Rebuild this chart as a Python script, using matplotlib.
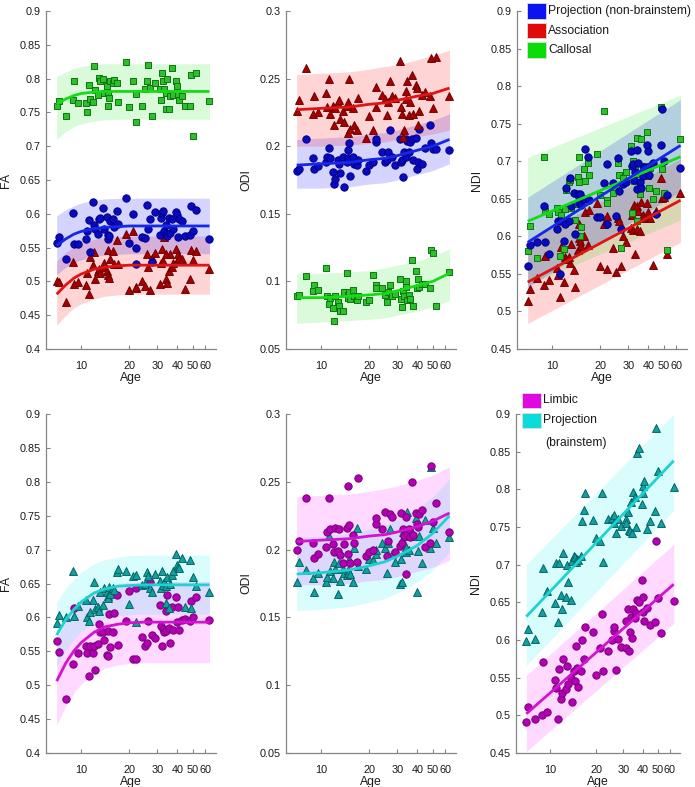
import matplotlib
matplotlib.use('Agg')
import matplotlib.pyplot as plt
from matplotlib.patches import Rectangle
from matplotlib.ticker import FixedLocator, NullLocator, FuncFormatter

plt.rcParams['font.family'] = ['Liberation Sans', 'DejaVu Sans']

# ---------------- data ----------------
age = [7.0, 7.2, 8.0, 8.9, 9.0, 9.5, 10.7, 10.9, 11.2, 11.4, 11.8, 12.0, 12.1, 12.7, 12.9, 13.1,
       13.6, 13.8, 14.4, 14.6, 14.8, 14.9, 15.1, 15.8, 16.1, 16.7, 16.9, 19.0, 20.0, 21.0, 21.9,
       22.1, 23.9, 25.1, 25.9, 26.1, 27.0, 27.6, 29.0, 31.0, 31.4, 32.3, 32.5, 33.0, 33.8, 34.2,
       34.7, 35.5, 36.0, 37.0, 37.8, 39.5, 40.0, 40.5, 41.0, 43.0, 44.6, 48.3, 48.7, 50.0, 52.5, 63.7]

fa_call = [0.760, 0.767, 0.745, 0.768, 0.797, 0.764, 0.764, 0.750, 0.790, 0.770, 0.766, 0.818, 0.783,
           0.776, 0.801, 0.796, 0.800, 0.779, 0.789, 0.759, 0.779, 0.772, 0.796, 0.793, 0.798, 0.793,
           0.766, 0.825, 0.758, 0.796, 0.777, 0.736, 0.760, 0.784, 0.797, 0.820, 0.786, 0.744, 0.793,
           0.784, 0.769, 0.809, 0.796, 0.784, 0.778, 0.755, 0.799, 0.755, 0.774, 0.815, 0.776, 0.796,
           0.789, 0.777, 0.769, 0.774, 0.760, 0.759, 0.805, 0.715, 0.808, 0.767]
fa_proj = [0.557, 0.566, 0.533, 0.601, 0.556, 0.556, 0.562, 0.575, 0.591, 0.544, 0.617, 0.583, 0.578,
           0.570, 0.592, 0.594, 0.608, 0.578, 0.596, 0.569, 0.563, 0.567, 0.590, 0.592, 0.580, 0.604,
           0.585, 0.623, 0.557, 0.600, 0.525, 0.549, 0.565, 0.564, 0.613, 0.578, 0.592, 0.529, 0.603,
           0.568, 0.594, 0.601, 0.604, 0.575, 0.583, 0.570, 0.567, 0.594, 0.571, 0.592, 0.578, 0.603,
           0.598, 0.566, 0.592, 0.589, 0.567, 0.568, 0.611, 0.575, 0.605, 0.563]
fa_assoc = [0.500, 0.499, 0.470, 0.528, 0.496, 0.499, 0.494, 0.512, 0.482, 0.536, 0.524, 0.543, 0.503,
            0.515, 0.519, 0.513, 0.522, 0.527, 0.516, 0.510, 0.546, 0.505, 0.533, 0.545, 0.525, 0.561,
            0.525, 0.570, 0.488, 0.574, 0.490, 0.492, 0.501, 0.493, 0.541, 0.522, 0.487, 0.535, 0.542,
            0.496, 0.527, 0.548, 0.530, 0.565, 0.503, 0.540, 0.498, 0.515, 0.540, 0.522, 0.527, 0.548,
            0.530, 0.541, 0.535, 0.533, 0.489, 0.504, 0.547, 0.532, 0.545, 0.518]

odi_assoc = [0.226, 0.234, 0.258, 0.224, 0.237, 0.225, 0.239, 0.229, 0.250, 0.224, 0.230, 0.216, 0.228,
             0.232, 0.234, 0.220, 0.226, 0.218, 0.230, 0.233, 0.210, 0.250, 0.213, 0.228, 0.216, 0.212,
             0.236, 0.206, 0.222, 0.212, 0.229, 0.244, 0.238, 0.235, 0.223, 0.233, 0.248, 0.237, 0.236,
             0.263, 0.229, 0.224, 0.207, 0.212, 0.235, 0.241, 0.248, 0.223, 0.233, 0.253, 0.224, 0.245,
             0.243, 0.216, 0.226, 0.238, 0.240, 0.237, 0.265, 0.228, 0.266, 0.237]
odi_proj = [0.182, 0.183, 0.205, 0.191, 0.183, 0.185, 0.188, 0.192, 0.199, 0.191, 0.181, 0.172, 0.176,
            0.190, 0.187, 0.180, 0.192, 0.170, 0.188, 0.197, 0.191, 0.202, 0.178, 0.192, 0.187, 0.186,
            0.190, 0.182, 0.186, 0.188, 0.203, 0.205, 0.196, 0.188, 0.190, 0.196, 0.212, 0.192, 0.186,
            0.205, 0.188, 0.190, 0.177, 0.196, 0.205, 0.192, 0.204, 0.196, 0.203, 0.205, 0.190, 0.206,
            0.183, 0.188, 0.213, 0.187, 0.199, 0.216, 0.202, 0.198, 0.198, 0.197]
odi_call = [0.089, 0.090, 0.104, 0.093, 0.097, 0.094, 0.110, 0.089, 0.083, 0.088, 0.080, 0.071, 0.089,
            0.085, 0.082, 0.078, 0.078, 0.092, 0.106, 0.090, 0.088, 0.092, 0.087, 0.094, 0.089, 0.086,
            0.089, 0.085, 0.086, 0.105, 0.097, 0.095, 0.095, 0.090, 0.085, 0.092, 0.097, 0.089, 0.091,
            0.102, 0.087, 0.081, 0.093, 0.089, 0.100, 0.096, 0.086, 0.090, 0.087, 0.116, 0.082, 0.108,
            0.095, 0.102, 0.096, 0.098, 0.098, 0.095, 0.123, 0.121, 0.082, 0.107]

ndi_proj = [0.561, 0.589, 0.592, 0.640, 0.592, 0.577, 0.610, 0.620, 0.550, 0.620, 0.594, 0.617, 0.664,
            0.621, 0.678, 0.640, 0.658, 0.603, 0.656, 0.645, 0.652, 0.656, 0.642, 0.650, 0.716, 0.706,
            0.648, 0.626, 0.626, 0.671, 0.696, 0.617, 0.671, 0.627, 0.704, 0.660, 0.610, 0.670, 0.672,
            0.714, 0.693, 0.696, 0.675, 0.686, 0.663, 0.715, 0.698, 0.673, 0.664, 0.680, 0.692, 0.722,
            0.713, 0.682, 0.693, 0.697, 0.630, 0.722, 0.770, 0.700, 0.655, 0.691]
ndi_assoc = [0.514, 0.530, 0.544, 0.535, 0.574, 0.542, 0.558, 0.549, 0.519, 0.586, 0.539, 0.573, 0.570,
             0.573, 0.565, 0.590, 0.555, 0.533, 0.582, 0.598, 0.617, 0.594, 0.587, 0.601, 0.633, 0.589,
             0.635, 0.644, 0.560, 0.617, 0.556, 0.627, 0.585, 0.553, 0.624, 0.620, 0.561, 0.600, 0.592,
             0.611, 0.628, 0.608, 0.642, 0.577, 0.610, 0.640, 0.634, 0.607, 0.646, 0.628, 0.625, 0.645,
             0.632, 0.625, 0.624, 0.562, 0.634, 0.678, 0.651, 0.652, 0.576, 0.658]
ndi_call = [0.580, 0.614, 0.571, 0.706, 0.634, 0.630, 0.638, 0.632, 0.574, 0.628, 0.583, 0.637, 0.662,
            0.673, 0.675, 0.638, 0.643, 0.622, 0.679, 0.705, 0.673, 0.601, 0.613, 0.690, 0.674, 0.697,
            0.682, 0.710, 0.655, 0.767, 0.649, 0.645, 0.658, 0.666, 0.697, 0.681, 0.585, 0.677, 0.686,
            0.720, 0.631, 0.700, 0.674, 0.690, 0.621, 0.731, 0.683, 0.656, 0.729, 0.691, 0.694, 0.739,
            0.680, 0.665, 0.691, 0.650, 0.660, 0.772, 0.690, 0.658, 0.582, 0.730]

fa_limb = [0.565, 0.549, 0.480, 0.531, 0.614, 0.547, 0.558, 0.547, 0.514, 0.558, 0.547, 0.558, 0.522,
           0.561, 0.591, 0.578, 0.579, 0.567, 0.545, 0.580, 0.543, 0.605, 0.556, 0.578, 0.606, 0.633,
           0.560, 0.594, 0.639, 0.538, 0.643, 0.538, 0.571, 0.558, 0.562, 0.595, 0.652, 0.574, 0.569,
           0.618, 0.587, 0.558, 0.583, 0.578, 0.610, 0.580, 0.633, 0.585, 0.562, 0.615, 0.582, 0.630,
           0.593, 0.615, 0.581, 0.596, 0.598, 0.595, 0.624, 0.601, 0.630, 0.596]
fa_bs = [0.592, 0.603, 0.600, 0.669, 0.602, 0.617, 0.625, 0.601, 0.594, 0.608, 0.625, 0.652, 0.612,
         0.615, 0.610, 0.638, 0.619, 0.644, 0.638, 0.631, 0.628, 0.645, 0.635, 0.643, 0.640, 0.667,
         0.671, 0.669, 0.620, 0.661, 0.663, 0.593, 0.648, 0.650, 0.667, 0.661, 0.643, 0.637, 0.664,
         0.653, 0.643, 0.669, 0.648, 0.652, 0.621, 0.647, 0.660, 0.614, 0.650, 0.663, 0.668, 0.693,
         0.678, 0.674, 0.673, 0.687, 0.616, 0.684, 0.614, 0.659, 0.647, 0.637]

odi_limb = [0.200, 0.206, 0.238, 0.205, 0.194, 0.197, 0.202, 0.213, 0.238, 0.215, 0.204, 0.198, 0.216,
            0.199, 0.215, 0.196, 0.190, 0.204, 0.216, 0.197, 0.247, 0.218, 0.190, 0.211, 0.205, 0.191,
            0.253, 0.195, 0.198, 0.200, 0.219, 0.223, 0.215, 0.228, 0.195, 0.206, 0.226, 0.224, 0.198,
            0.203, 0.227, 0.205, 0.215, 0.210, 0.182, 0.224, 0.212, 0.215, 0.209, 0.250, 0.211, 0.227,
            0.219, 0.217, 0.226, 0.229, 0.202, 0.205, 0.262, 0.220, 0.234, 0.213]
odi_bs = [0.176, 0.191, 0.185, 0.179, 0.169, 0.183, 0.176, 0.180, 0.210, 0.184, 0.179, 0.191, 0.186,
          0.167, 0.190, 0.177, 0.186, 0.183, 0.181, 0.185, 0.183, 0.193, 0.182, 0.176, 0.201, 0.216,
          0.188, 0.186, 0.193, 0.192, 0.197, 0.200, 0.205, 0.201, 0.183, 0.205, 0.215, 0.197, 0.191,
          0.175, 0.193, 0.176, 0.213, 0.210, 0.198, 0.202, 0.228, 0.200, 0.210, 0.213, 0.210, 0.223,
          0.169, 0.199, 0.210, 0.190, 0.222, 0.201, 0.261, 0.216, 0.205, 0.209]

ndi_bs = [0.599, 0.614, 0.601, 0.637, 0.696, 0.665, 0.649, 0.702, 0.624, 0.702, 0.660, 0.641, 0.716,
          0.657, 0.700, 0.677, 0.653, 0.705, 0.712, 0.710, 0.704, 0.707, 0.706, 0.712, 0.758, 0.772,
          0.795, 0.759, 0.736, 0.732, 0.795, 0.703, 0.761, 0.762, 0.766, 0.755, 0.742, 0.760, 0.751,
          0.760, 0.755, 0.770, 0.746, 0.745, 0.783, 0.742, 0.797, 0.790, 0.750, 0.848, 0.855, 0.781,
          0.795, 0.805, 0.811, 0.747, 0.758, 0.771, 0.882, 0.825, 0.755, 0.803]
ndi_limb = [0.491, 0.511, 0.495, 0.500, 0.571, 0.504, 0.547, 0.536, 0.495, 0.561, 0.522, 0.529, 0.575,
            0.535, 0.565, 0.541, 0.550, 0.518, 0.559, 0.545, 0.592, 0.563, 0.537, 0.559, 0.600, 0.575,
            0.617, 0.610, 0.554, 0.589, 0.635, 0.559, 0.586, 0.600, 0.612, 0.617, 0.560, 0.601, 0.591,
            0.625, 0.590, 0.641, 0.585, 0.610, 0.630, 0.602, 0.641, 0.629, 0.636, 0.653, 0.650, 0.680,
            0.657, 0.637, 0.625, 0.642, 0.620, 0.624, 0.731, 0.656, 0.609, 0.652]

# fitted curves and confidence bands
fit_age_fa = [7, 8, 9, 10, 12, 14, 17, 20, 25, 30, 40, 50, 63.7]
fa_call_fit = [0.762, 0.770, 0.775, 0.778, 0.780, 0.781, 0.781, 0.781, 0.781, 0.781, 0.781, 0.781, 0.781]
fa_call_hi = [0.803, 0.810, 0.815, 0.818, 0.821, 0.822, 0.822, 0.822, 0.822, 0.822, 0.822, 0.822, 0.822]
fa_call_lo = [0.710, 0.722, 0.729, 0.733, 0.737, 0.739, 0.740, 0.740, 0.740, 0.740, 0.740, 0.740, 0.740]
fa_proj_fit = [0.553, 0.563, 0.570, 0.574, 0.578, 0.580, 0.581, 0.582, 0.582, 0.582, 0.582, 0.582, 0.582]
fa_proj_hi = [0.597, 0.606, 0.612, 0.616, 0.620, 0.622, 0.623, 0.623, 0.623, 0.623, 0.623, 0.623, 0.623]
fa_proj_lo = [0.510, 0.521, 0.528, 0.532, 0.537, 0.539, 0.540, 0.541, 0.541, 0.541, 0.541, 0.541, 0.541]
fa_assoc_fit = [0.481, 0.495, 0.505, 0.511, 0.518, 0.521, 0.523, 0.524, 0.524, 0.524, 0.524, 0.524, 0.524]
fa_assoc_hi = [0.530, 0.543, 0.551, 0.556, 0.562, 0.565, 0.566, 0.567, 0.567, 0.567, 0.567, 0.567, 0.567]
fa_assoc_lo = [0.435, 0.450, 0.461, 0.467, 0.474, 0.478, 0.480, 0.481, 0.481, 0.481, 0.481, 0.481, 0.481]
fa_bs_fit = [0.574, 0.597, 0.612, 0.623, 0.636, 0.642, 0.646, 0.647, 0.648, 0.648, 0.648, 0.648, 0.648]
fa_bs_hi = [0.622, 0.643, 0.657, 0.667, 0.679, 0.685, 0.689, 0.691, 0.692, 0.692, 0.692, 0.692, 0.692]
fa_bs_lo = [0.527, 0.552, 0.568, 0.579, 0.592, 0.598, 0.602, 0.604, 0.605, 0.605, 0.605, 0.605, 0.605]
fa_limb_fit = [0.506, 0.533, 0.551, 0.563, 0.578, 0.586, 0.590, 0.592, 0.593, 0.593, 0.593, 0.593, 0.593]
fa_limb_hi = [0.568, 0.595, 0.613, 0.624, 0.638, 0.645, 0.650, 0.652, 0.653, 0.653, 0.653, 0.653, 0.653]
fa_limb_lo = [0.441, 0.470, 0.489, 0.502, 0.517, 0.525, 0.530, 0.532, 0.533, 0.533, 0.533, 0.533, 0.533]

fit_age_odi = [7, 10, 15, 20, 25, 30, 40, 50, 63.7]
odi_assoc_fit = [0.227, 0.228, 0.229, 0.231, 0.232, 0.234, 0.237, 0.239, 0.243]
odi_assoc_hi = [0.253, 0.254, 0.255, 0.257, 0.259, 0.260, 0.264, 0.267, 0.271]
odi_assoc_lo = [0.200, 0.200, 0.201, 0.202, 0.203, 0.205, 0.207, 0.209, 0.212]
odi_proj_fit = [0.186, 0.187, 0.188, 0.190, 0.191, 0.193, 0.197, 0.200, 0.205]
odi_proj_hi = [0.205, 0.206, 0.207, 0.209, 0.210, 0.212, 0.216, 0.219, 0.224]
odi_proj_lo = [0.169, 0.169, 0.170, 0.172, 0.173, 0.175, 0.179, 0.182, 0.187]
odi_call_fit = [0.088, 0.088, 0.089, 0.090, 0.091, 0.093, 0.097, 0.100, 0.106]
odi_call_hi = [0.106, 0.106, 0.107, 0.108, 0.110, 0.112, 0.115, 0.119, 0.124]
odi_call_lo = [0.069, 0.070, 0.071, 0.072, 0.073, 0.075, 0.078, 0.081, 0.086]
odi_limb_fit = [0.206, 0.207, 0.208, 0.210, 0.211, 0.213, 0.217, 0.221, 0.227]
odi_limb_hi = [0.239, 0.240, 0.241, 0.243, 0.245, 0.247, 0.251, 0.255, 0.261]
odi_limb_lo = [0.174, 0.174, 0.175, 0.177, 0.178, 0.180, 0.184, 0.187, 0.192]
odi_bs_fit = [0.182, 0.183, 0.185, 0.188, 0.191, 0.195, 0.203, 0.212, 0.225]
odi_bs_hi = [0.209, 0.210, 0.212, 0.215, 0.218, 0.222, 0.230, 0.239, 0.252]
odi_bs_lo = [0.155, 0.156, 0.158, 0.161, 0.164, 0.168, 0.176, 0.185, 0.198]

fit_age_ndi = [7, 63.7]
ndi_proj_fit = [0.592, 0.721]
ndi_proj_hi = [0.652, 0.782]
ndi_proj_lo = [0.532, 0.660]
ndi_assoc_fit = [0.539, 0.648]
ndi_assoc_hi = [0.594, 0.703]
ndi_assoc_lo = [0.484, 0.592]
ndi_call_fit = [0.620, 0.706]
ndi_call_hi = [0.705, 0.788]
ndi_call_lo = [0.535, 0.622]
ndi_limb_fit = [0.502, 0.674]
ndi_limb_hi = [0.553, 0.727]
ndi_limb_lo = [0.452, 0.622]
ndi_bs_fit = [0.631, 0.838]
ndi_bs_hi = [0.700, 0.900]
ndi_bs_lo = [0.566, 0.772]

x_ticks = [10, 20, 30, 40, 50, 60]

# ---------------- styles ----------------
STY = {
    'proj':  dict(band=(0.0, 0.0, 1.0), line='#1428E6', face='#0A0ABE', edge='#000088', marker='o', s=28),
    'assoc': dict(band=(1.0, 0.0, 0.0), line='#E01414', face='#A80000', edge='#6E0000', marker='^', s=32),
    'call':  dict(band=(0.0, 0.9, 0.0), line='#14DC14', face='#2EBE2E', edge='#0A780A', marker='s', s=22),
    'limb':  dict(band=(1.0, 0.0, 1.0), line='#D214D2', face='#B400B4', edge='#780078', marker='o', s=28),
    'bs':    dict(band=(0.0, 0.95, 0.95), line='#1ED2D2', face='#14A0A0', edge='#006464', marker='^', s=32),
}

W, H = 695, 787
fig = plt.figure(figsize=(W / 100, H / 100), dpi=100)


def make_ax(x0, x1, y0, y1):
    return fig.add_axes([x0 / W, 1 - y1 / H, (x1 - x0) / W, (y1 - y0) / H])


def style(ax, ylim, step, ylabel):
    ax.set_xscale('log')
    ax.set_xlim(6, 70)
    ax.set_ylim(*ylim)
    ax.xaxis.set_major_locator(FixedLocator(x_ticks))
    ax.xaxis.set_minor_locator(NullLocator())
    ax.xaxis.set_major_formatter(FuncFormatter(lambda v, p: f'{v:g}'))
    n = int(round((ylim[1] - ylim[0]) / step))
    ax.set_yticks([ylim[0] + i * step for i in range(n + 1)])
    ax.yaxis.set_major_formatter(FuncFormatter(lambda v, p: f'{round(v, 3):g}'))
    for s in ['top', 'right']:
        ax.spines[s].set_visible(False)
    for s in ['left', 'bottom']:
        ax.spines[s].set_color('#858585')
        ax.spines[s].set_linewidth(0.9)
    ax.tick_params(direction='in', length=3, width=0.8, color='#858585',
                   labelsize=7.8, labelcolor='#1a1a1a')
    ax.tick_params(axis='x', pad=8.5)
    ax.tick_params(axis='y', pad=4)
    ax.set_xlabel('Age', fontsize=8.8, color='#1a1a1a')
    ax.set_ylabel(ylabel, fontsize=8.8, color='#1a1a1a')
    bb = ax.get_position()
    ax.yaxis.set_label_coords(-34 / (bb.width * W), 0.5)
    ax.xaxis.set_label_coords(0.5, -23 / (bb.height * H))


def group(ax, key, y, fx, fy, lo, hi, alpha=0.17):
    st = STY[key]
    ax.fill_between(fx, lo, hi, color=st['band'], alpha=alpha, linewidth=0, zorder=1)
    ax.scatter(age, y, s=st['s'], marker=st['marker'], facecolor=st['face'],
               edgecolor=st['edge'], linewidth=0.7, zorder=3)
    ax.plot(fx, fy, color=st['line'], lw=2.0, zorder=4, solid_capstyle='butt')


cols = [(46, 216), (286, 456), (517, 687)]
row1 = (11, 349)
row2 = (414, 753)

# top row
ax = make_ax(*cols[0], *row1)
group(ax, 'call', fa_call, fit_age_fa, fa_call_fit, fa_call_lo, fa_call_hi, 0.15)
group(ax, 'assoc', fa_assoc, fit_age_fa, fa_assoc_fit, fa_assoc_lo, fa_assoc_hi)
group(ax, 'proj', fa_proj, fit_age_fa, fa_proj_fit, fa_proj_lo, fa_proj_hi)
style(ax, (0.4, 0.9), 0.05, 'FA')

ax = make_ax(*cols[1], *row1)
group(ax, 'call', odi_call, fit_age_odi, odi_call_fit, odi_call_lo, odi_call_hi, 0.15)
group(ax, 'proj', odi_proj, fit_age_odi, odi_proj_fit, odi_proj_lo, odi_proj_hi)
group(ax, 'assoc', odi_assoc, fit_age_odi, odi_assoc_fit, odi_assoc_lo, odi_assoc_hi)
style(ax, (0.05, 0.3), 0.05, 'ODI')

ax = make_ax(*cols[2], *row1)
group(ax, 'assoc', ndi_assoc, fit_age_ndi, ndi_assoc_fit, ndi_assoc_lo, ndi_assoc_hi)
group(ax, 'call', ndi_call, fit_age_ndi, ndi_call_fit, ndi_call_lo, ndi_call_hi, 0.15)
group(ax, 'proj', ndi_proj, fit_age_ndi, ndi_proj_fit, ndi_proj_lo, ndi_proj_hi)
style(ax, (0.45, 0.9), 0.05, 'NDI')

# bottom row
ax = make_ax(*cols[0], *row2)
group(ax, 'limb', fa_limb, fit_age_fa, fa_limb_fit, fa_limb_lo, fa_limb_hi, 0.15)
group(ax, 'bs', fa_bs, fit_age_fa, fa_bs_fit, fa_bs_lo, fa_bs_hi, 0.15)
style(ax, (0.4, 0.9), 0.05, 'FA')

ax = make_ax(*cols[1], *row2)
group(ax, 'bs', odi_bs, fit_age_odi, odi_bs_fit, odi_bs_lo, odi_bs_hi, 0.15)
group(ax, 'limb', odi_limb, fit_age_odi, odi_limb_fit, odi_limb_lo, odi_limb_hi, 0.15)
style(ax, (0.05, 0.3), 0.05, 'ODI')

ax = make_ax(516, 680, *row2)
group(ax, 'bs', ndi_bs, fit_age_ndi, ndi_bs_fit, ndi_bs_lo, ndi_bs_hi, 0.15)
group(ax, 'limb', ndi_limb, fit_age_ndi, ndi_limb_fit, ndi_limb_lo, ndi_limb_hi, 0.15)
style(ax, (0.45, 0.9), 0.05, 'NDI')


# legends (manually placed boxes + text)
def legend_entry(px, py, color, label):
    fig.add_artist(Rectangle((px / W, 1 - (py + 7.5) / H), 19 / W, 15 / H,
                             transform=fig.transFigure, facecolor=color,
                             edgecolor='#dddddd', linewidth=0.6))
    fig.text((px + 21) / W, 1 - py / H, label, fontsize=8.7, va='center', ha='left',
             color='#1a1a1a')


legend_entry(527, 11, '#0A14F0', 'Projection (non-brainstem)')
legend_entry(527, 30.5, '#E00A0A', 'Association')
legend_entry(527, 50, '#0ADC0A', 'Callosal')
legend_entry(522, 400, '#E00AE0', 'Limbic')
legend_entry(522, 420, '#0ADCDC', 'Projection')
fig.text(545 / W, 1 - 443 / H, '(brainstem)', fontsize=8.7, va='center', ha='left', color='#1a1a1a')

fig.savefig('out.png', dpi=100)
